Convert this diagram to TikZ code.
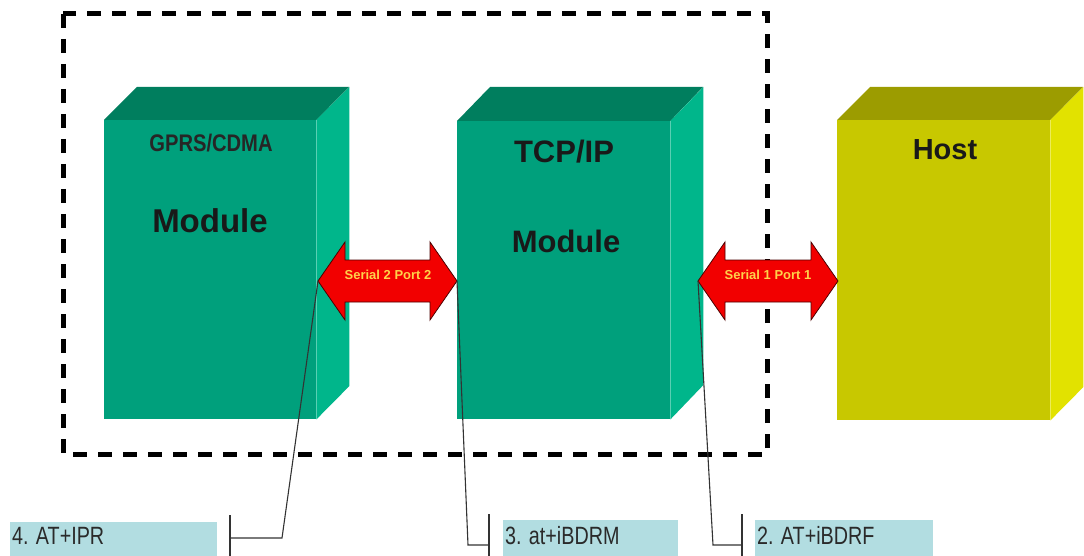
\documentclass[tikz,border=0pt]{standalone}
\usepackage{fontspec}
\setmainfont{Liberation Sans}
\newfontfamily\narrowfont[FakeStretch=0.79]{Liberation Sans}
\newfontfamily\gprsfont[FakeStretch=0.84]{Liberation Sans}
\definecolor{gfront}{HTML}{00A07C}
\definecolor{gtop}{HTML}{007E5E}
\definecolor{gside}{HTML}{00B68B}
\definecolor{yfront}{HTML}{C8C800}
\definecolor{ytop}{HTML}{9C9C00}
\definecolor{yside}{HTML}{E2E200}
\definecolor{labblue}{HTML}{B2DDE1}
\definecolor{labtxt}{HTML}{2A2A2A}
\definecolor{arrred}{HTML}{F20000}
\definecolor{arrtxt}{HTML}{FFD24A}
\tikzset{
  frontface/.style={anchor=north west, inner sep=0pt, minimum width=#1},
  boxtitle/.style={anchor=base, inner sep=0pt, font=\bfseries\fontsize{31}{31}\selectfont, text=black!90},
  labbox/.style={anchor=north west, inner sep=0pt, fill=labblue, minimum height=36pt},
  labtext/.style={anchor=base west, inner sep=0pt, text=labtxt, font=\narrowfont\fontsize{25}{25}\selectfont},
  dblarrow/.style={fill=arrred, draw=black!70!red, line width=0.8pt, line join=miter},
  arrlabel/.style={anchor=center, inner sep=0pt, text=arrtxt, font=\bfseries\fontsize{13}{13}\selectfont},
  callout/.style={draw=black!80, line width=1.1pt},
  groupbox/.style={draw=black, line width=5pt, dash pattern=on 14pt off 11pt},
}
\begin{document}
\begin{tikzpicture}[x=1pt,y=-1pt]
\useasboundingbox (0,0) rectangle (1084,556);
\fill[white] (0,0) rectangle (1084,556);

% dashed group box
\draw[groupbox] (63,14) rectangle (767,454);

% GPRS/CDMA box
\node[frontface=212pt, minimum height=299pt, fill=gfront] (gprs) at (104,120) {};
\fill[gtop] (gprs.north west) -- ++(33,-33) -- ++(212,0) -- (gprs.north east) -- cycle;
\fill[gside] (gprs.north east) -- ++(33,-33) -- ++(0,299) -- (gprs.south east) -- cycle;
\node[anchor=base, inner sep=0pt, font=\gprsfont\bfseries\fontsize{24}{24}\selectfont, text=black!85] (gprsT) at (211,152) {GPRS/CDMA};
\node[boxtitle, font=\bfseries\fontsize{33}{33}\selectfont] (gprsM) at (210,233) {Module};

% TCP/IP box
\node[frontface=213pt, minimum height=298pt, fill=gfront] (tcp) at (457,121) {};
\fill[gtop] (tcp.north west) -- ++(33,-34) -- ++(213,0) -- (tcp.north east) -- cycle;
\fill[gside] (tcp.north east) -- ++(33,-34) -- ++(0,298) -- (tcp.south east) -- cycle;
\node[boxtitle] (tcpT) at (564,163) {TCP/IP};
\node[boxtitle] (tcpM) at (566,252) {Module};

% Host box
\node[frontface=213pt, minimum height=300pt, fill=yfront] (host) at (837,120) {};
\fill[ytop] (host.north west) -- ++(33,-33) -- ++(213,0) -- (host.north east) -- cycle;
\fill[yside] (host.north east) -- ++(33,-33) -- ++(0,300) -- (host.south east) -- cycle;
\node[boxtitle, font=\bfseries\fontsize{29}{29}\selectfont] (hostT) at (945,160) {Host};

% arrow tips
\coordinate (a2L) at (318,281);
\coordinate (a2R) at (457,281);
\coordinate (a1L) at (698,281);
\coordinate (a1R) at (838,281);

% double arrows
\draw[dblarrow] (a2L) -- ++(27,-39) -- ++(0,18) -- ++(85,0) -- ++(0,-18) -- (a2R)
  -- ++(-27,39) -- ++(0,-18) -- ++(-85,0) -- ++(0,18) -- cycle;
\node[arrlabel] (s2) at (388,275) {Serial 2 Port 2};
\draw[dblarrow] (a1L) -- ++(27,-39) -- ++(0,18) -- ++(86,0) -- ++(0,-18) -- (a1R)
  -- ++(-27,39) -- ++(0,-18) -- ++(-86,0) -- ++(0,18) -- cycle;
\node[arrlabel] (s1) at (768,275) {Serial 1 Port 1};

% labels
\node[labbox, minimum width=207pt] (lab4) at (10,522) {};
\node[labtext] (lab4t) at (12,544) {4. AT+IPR};
\node[labbox, minimum width=175pt] (lab3) at (503,520) {};
\node[labtext] (lab3t) at (505,544) {3. at+iBDRM};
\node[labbox, minimum width=178pt] (lab2) at (755,520) {};
\node[labtext] (lab2t) at (757,544) {2. AT+iBDRF};

% callouts
\coordinate (c4a) at (230,515);
\coordinate (c4b) at (230,558);
\coordinate (c4m) at (230,538);
\coordinate (c4k) at (282,538);
\draw[callout] (c4a) -- (c4b);
\draw[callout] (c4m) -- (c4k) -- (a2L);

\coordinate (c3a) at (489,514);
\coordinate (c3b) at (489,558);
\coordinate (c3m) at (489,545);
\coordinate (c3k) at (468,545);
\draw[callout] (c3a) -- (c3b);
\draw[callout] (c3m) -- (c3k) -- (a2R);

\coordinate (c2a) at (742,514);
\coordinate (c2b) at (742,558);
\coordinate (c2m) at (742,545);
\coordinate (c2k) at (713,545);
\draw[callout] (c2a) -- (c2b);
\draw[callout] (c2m) -- (c2k) -- (a1L);
\end{tikzpicture}
\end{document}
